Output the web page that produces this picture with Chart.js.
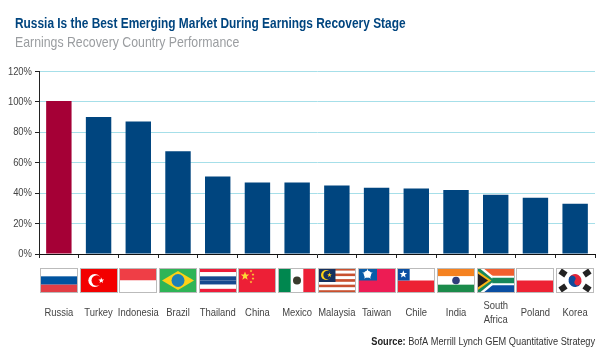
<!DOCTYPE html>
<html>
<head>
<meta charset="utf-8">
<title>Earnings Recovery Country Performance</title>
<script src="https://cdn.jsdelivr.net/npm/chart.js@4/dist/chart.umd.min.js"></script>
<style>
  html, body { margin: 0; padding: 0; background: #fff; }
  canvas { display: block; }
</style>
</head>
<body>
<canvas id="chart" width="600" height="350"></canvas>
<script>
const categories = ["Russia", "Turkey", "Indonesia", "Brazil", "Thailand", "China", "Mexico", "Malaysia", "Taiwan", "Chile", "India", ["South", "Africa"], "Poland", "Korea"]
const returns = [100.5, 90, 87, 67.5, 51, 47, 47, 45, 43.5, 43, 42, 39, 37, 33]
const flagNames = ["russia", "turkey", "indonesia", "brazil", "thailand", "china", "mexico", "malaysia", "taiwan", "chile", "india", "southAfrica", "poland", "korea"]

const fontName = '"Liberation Sans", sans-serif'
const BLUE = "#00457f"
const RED = "#a50036"
const NARROW = 0.82

// the reference uses a condensed face and none is installed, so squeeze all text horizontally
const canvas = document.getElementById("chart")
const ctx = canvas.getContext("2d")
const rawFillText = ctx.fillText.bind(ctx)
const rawMeasureText = ctx.measureText.bind(ctx)
ctx.fillText = (text, x, y) => {
  ctx.save()
  ctx.translate(x, y)
  ctx.scale(NARROW, 1)
  rawFillText(text, 0, 0)
  ctx.restore()
}
ctx.measureText = text => ({ width: rawMeasureText(text).width * NARROW })

function stripes(c, x, y, w, h, colors) {
  colors.forEach((color, i) => {
    c.fillStyle = color
    c.fillRect(x, y + h * i / colors.length, w, h / colors.length)
  })
}

function star(c, cx, cy, r, color) {
  c.fillStyle = color
  c.beginPath()
  for (let i = 0; i < 10; i++) {
    const a = -Math.PI / 2 + i * Math.PI / 5
    const d = i % 2 ? r * 0.42 : r
    c.lineTo(cx + Math.cos(a) * d, cy + Math.sin(a) * d)
  }
  c.closePath()
  c.fill()
}

function disc(c, cx, cy, r, color) {
  c.fillStyle = color
  c.beginPath()
  c.arc(cx, cy, r, 0, Math.PI * 2)
  c.fill()
}

function poly(c, color, points) {
  c.fillStyle = color
  c.beginPath()
  points.forEach(p => c.lineTo(p[0], p[1]))
  c.closePath()
  c.fill()
}

const flags = {
  russia(c, x, y, w, h) { stripes(c, x, y, w, h, ["#ffffff", "#00539f", "#e23d45"]) },
  turkey(c, x, y, w, h) {
    c.fillStyle = "#f30000"
    c.fillRect(x, y, w, h)
    disc(c, x + w * 0.39, y + h / 2, 6.5, "#fff")
    disc(c, x + w * 0.44, y + h / 2, 5.2, "#f30000")
    star(c, x + w * 0.56, y + h / 2, 3, "#fff")
  },
  indonesia(c, x, y, w, h) { stripes(c, x, y, w, h, ["#ef3e46", "#ffffff"]) },
  brazil(c, x, y, w, h) {
    c.fillStyle = "#2fb457"
    c.fillRect(x, y, w, h)
    poly(c, "#fcd116", [[x + 3, y + h / 2], [x + w / 2, y + 3], [x + w - 3, y + h / 2], [x + w / 2, y + h - 3]])
    disc(c, x + w / 2, y + h / 2, 6.5, "#1d7fb5")
  },
  thailand(c, x, y, w, h) { stripes(c, x, y, w, h, ["#ed1c3a", "#ffffff", "#17498f", "#17498f", "#ffffff", "#ed1c3a"]) },
  china(c, x, y, w, h) {
    c.fillStyle = "#ed1f36"
    c.fillRect(x, y, w, h)
    star(c, x + 7, y + 8, 4.5, "#fdd835")
    star(c, x + 13, y + 3, 1.5, "#fdd835")
    star(c, x + 15, y + 6.5, 1.5, "#fdd835")
    star(c, x + 15, y + 10.5, 1.5, "#fdd835")
    star(c, x + 13, y + 14, 1.5, "#fdd835")
  },
  mexico(c, x, y, w, h) {
    c.fillStyle = "#fff"
    c.fillRect(x, y, w, h)
    c.fillStyle = "#00874f"
    c.fillRect(x, y, w / 3, h)
    c.fillStyle = "#ed1f36"
    c.fillRect(x + w * 2 / 3, y, w / 3, h)
    disc(c, x + w / 2, y + h / 2, 4, "#3a3a2c")
  },
  malaysia(c, x, y, w, h) {
    stripes(c, x, y, w, h, ["#c8502f", "#ffffff", "#c8502f", "#ffffff", "#c8502f", "#ffffff", "#c8502f", "#ffffff", "#c8502f"])
    c.fillStyle = "#15305f"
    c.fillRect(x, y, w * 0.46, h * 0.56)
    disc(c, x + 8, y + 7, 5, "#fcd116")
    disc(c, x + 9.5, y + 7, 4.2, "#15305f")
    star(c, x + 11.5, y + 7, 2.5, "#fcd116")
  },
  taiwan(c, x, y, w, h) {
    c.fillStyle = "#ed1c54"
    c.fillRect(x, y, w, h)
    c.fillStyle = "#0a5ca8"
    c.fillRect(x, y, w * 0.5, h * 0.5)
    star(c, x + w * 0.25, y + h * 0.25, 5.5, "#fff")
    disc(c, x + w * 0.25, y + h * 0.25, 3.6, "#fff")
  },
  chile(c, x, y, w, h) {
    stripes(c, x, y, w, h, ["#ffffff", "#ed2233"])
    c.fillStyle = "#0a4ea2"
    c.fillRect(x, y, w / 3, h / 2)
    star(c, x + w / 6, y + h / 4, 4, "#fff")
  },
  india(c, x, y, w, h) {
    stripes(c, x, y, w, h, ["#f58220", "#ffffff", "#1b8b4b"])
    disc(c, x + w / 2, y + h / 2, 3.8, "#2f3d7c")
  },
  southAfrica(c, x, y, w, h) {
    stripes(c, x, y, w, h, ["#f15f2f", "#0a4ea2"])
    c.fillStyle = "#fff"
    c.fillRect(x + w * 0.3, y + h * 0.31, w * 0.7, h * 0.38)
    poly(c, "#fff", [[x, y], [x + w * 0.16, y], [x + w * 0.56, y + h / 2], [x + w * 0.16, y + h], [x, y + h]])
    c.fillStyle = "#17875a"
    c.fillRect(x + w * 0.4, y + h * 0.39, w * 0.6, h * 0.22)
    poly(c, "#17875a", [[x, y], [x + w * 0.06, y], [x + w * 0.46, y + h / 2], [x + w * 0.06, y + h], [x, y + h]])
    poly(c, "#fcb514", [[x, y + h * 0.1], [x + w * 0.38, y + h / 2], [x, y + h * 0.9]])
    poly(c, "#231f20", [[x, y + h * 0.2], [x + w * 0.29, y + h / 2], [x, y + h * 0.8]])
  },
  poland(c, x, y, w, h) { stripes(c, x, y, w, h, ["#ffffff", "#ed2233"]) },
  korea(c, x, y, w, h) {
    c.fillStyle = "#fff"
    c.fillRect(x, y, w, h)
    const cx = x + w / 2
    const cy = y + h / 2
    c.save()
    c.translate(cx, cy)
    c.rotate(0.55)
    c.fillStyle = "#e3263a"
    c.beginPath()
    c.arc(0, 0, 6.5, Math.PI, 0)
    c.fill()
    c.fillStyle = "#0f4c9c"
    c.beginPath()
    c.arc(0, 0, 6.5, 0, Math.PI)
    c.fill()
    disc(c, -3.2, 0, 3.25, "#0f4c9c")
    disc(c, 3.2, 0, 3.25, "#e3263a")
    c.restore()
    const bars = [[-12, -7.5, -0.98], [12, -7.5, 0.98], [-12, 7.5, 0.98], [12, 7.5, -0.98]]
    bars.forEach(b => {
      c.save()
      c.translate(cx + b[0], cy + b[1])
      c.rotate(b[2])
      c.fillStyle = "#222"
      c.fillRect(-3, -3.5, 6, 7)
      c.restore()
    })
  }
}

// flags sit between the axis and the country names, one per category
const flagRow = {
  id: "flagRow",
  afterDraw(chart) {
    const c = chart.ctx
    const xScale = chart.scales.x
    flagNames.forEach((name, i) => {
      const cx = Math.round(xScale.getPixelForValue(i))
      const x = cx - 19
      const y = 268
      c.save()
      c.beginPath()
      c.rect(x, y, 38, 25)
      c.clip()
      flags[name](c, x, y, 38, 25)
      c.restore()
      c.strokeStyle = "#bbbbbb"
      c.lineWidth = 1
      c.strokeRect(x + 0.5, y + 0.5, 37, 24)
    })
  }
}

const sourceLine = {
  id: "sourceLine",
  afterDraw(chart) {
    const c = chart.ctx
    const rest = " BofA Merrill Lynch GEM Quantitative Strategy"
    c.save()
    c.textBaseline = "middle"
    c.font = "11.25px " + fontName
    const restWidth = c.measureText(rest).width
    c.fillStyle = "#333"
    c.fillText(rest, 595 - restWidth, 341.5)
    c.font = "bold 11.25px " + fontName
    c.fillStyle = "#222"
    c.fillText("Source:", 595 - restWidth - c.measureText("Source:").width, 341.5)
    c.restore()
  }
}

// tick labels run left of the padded area, widen the y scale's label clip to the canvas edge
const yLabelRoom = {
  id: "yLabelRoom",
  afterLayout(chart) { chart.scales.y.left = 0 }
}

new Chart(canvas, {
  type: "bar",
  plugins: [yLabelRoom, flagRow, sourceLine],
  data: {
    labels: categories,
    datasets: [{
      data: returns,
      backgroundColor: returns.map((v, i) => i === 0 ? RED : BLUE),
      categoryPercentage: 1,
      barPercentage: 0.64
    }]
  },
  options: {
    responsive: false,
    animation: false,
    layout: { padding: { left: 15, right: 5, top: 12, bottom: 0 } },
    plugins: {
      legend: { display: false },
      tooltip: { enabled: false },
      title: {
        display: true,
        text: "Russia Is the Best Emerging Market During Earnings Recovery Stage",
        align: "start",
        color: BLUE,
        font: { family: fontName, size: 14.5, weight: "bold" },
        padding: { top: 3, bottom: 1 }
      },
      subtitle: {
        display: true,
        text: "Earnings Recovery Country Performance",
        align: "start",
        color: "#9a9da0",
        font: { family: fontName, size: 15, weight: "normal" },
        padding: { top: 0, bottom: 20 }
      }
    },
    scales: {
      x: {
        afterFit(scale) {
          scale.height = 96
          scale.paddingLeft = 0
          scale.paddingRight = 0
        },
        grid: { offset: true, drawOnChartArea: false, tickLength: 4, tickColor: "#222" },
        border: { color: "#111", width: 1 },
        ticks: {
          autoSkip: false,
          maxRotation: 0,
          padding: 48,
          crossAlign: "center",
          color: "#444",
          font: { family: fontName, size: 11.5, lineHeight: 1.2 }
        }
      },
      y: {
        min: 0,
        max: 120,
        afterFit(scale) { scale.width = 24 },
        grid: { color: "#a6dfe9", tickLength: 4, tickColor: "#222" },
        border: { color: "#222", width: 1 },
        ticks: {
          stepSize: 20,
          padding: 3,
          color: "#444",
          font: { family: fontName, size: 11.5 },
          callback: v => v + "%"
        }
      }
    }
  }
})
</script>
</body>
</html>
